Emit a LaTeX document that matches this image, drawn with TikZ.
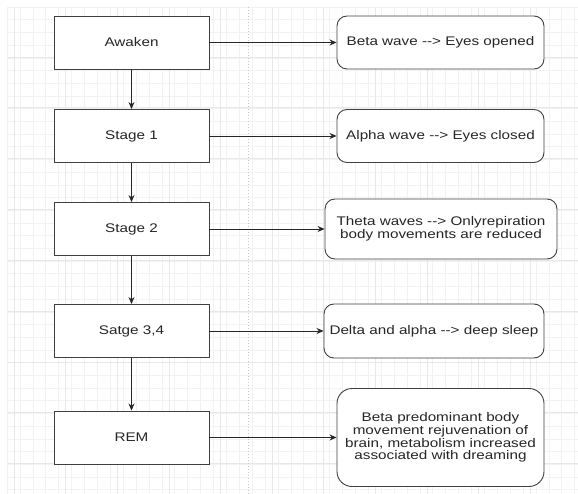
\documentclass[tikz,border=0pt]{standalone}
\usepackage{fontspec}
\setmainfont{Liberation Sans}[FakeStretch=1.22]
\usepackage{tikz}
\usetikzlibrary{arrows.meta}

\begin{document}
\begin{tikzpicture}[
    x=1pt,
    y=-1pt,
    every node/.style={font=\fontsize{12.5}{12.8}\selectfont, text=black!85},
    stage/.style={draw=black!75, line width=0.9pt, fill=white, minimum width=155pt, minimum height=53pt, inner sep=0pt},
    wave/.style={draw=black!75, line width=0.9pt, fill=white, rounded corners=10pt, align=center, inner sep=0pt},
    link/.style={-{Stealth[length=7pt, width=6pt]}, draw=black!85, line width=0.8pt},
    minorgrid/.style={draw=black!5, line width=0.5pt},
    majorgrid/.style={draw=black!9, line width=0.6pt},
    sepline/.style={draw=black!22, dotted, line width=1pt}
  ]
    \useasboundingbox (0,0) rectangle (578,494);
    % background grid
    \foreach \i in {0,...,44} {
      \draw[minorgrid] (7+\i*12.9,7) -- (7+\i*12.9,494);
    }
    \foreach \j in {0,...,38} {
      \draw[minorgrid] (7,7+\j*12.7) -- (578,7+\j*12.7);
    }
    \foreach \i in {0,...,11} {
      \draw[majorgrid] (14+\i*51.6,7) -- (14+\i*51.6,494);
    }
    \foreach \j in {0,...,9} {
      \draw[majorgrid] (7,57+\j*50.8) -- (578,57+\j*50.8);
    }
    \draw[sepline] (248,7) -- (248,494);

    % stages
    \node[stage] (awaken) at (131.5,42.5) {Awaken};
    \node[stage] (stageone) at (131.5,136) {Stage 1};
    \node[stage] (stagetwo) at (131.5,229) {Stage 2};
    \node[stage] (stagethree) at (131.5,331) {Satge 3,4};
    \node[stage] (rem) at (131.5,437.5) {REM};

    % waves
    \node[wave, minimum width=207pt, minimum height=53pt] (beta) at (440.5,42.5)
      {Beta wave -{}-> Eyes opened};
    \node[wave, minimum width=207pt, minimum height=53pt] (alpha) at (440.5,136)
      {Alpha wave -{}-> Eyes closed};
    \node[wave, minimum width=232pt, minimum height=60pt] (theta) at (441,229)
      {Theta waves -{}-> Onlyrepiration\\body movements are reduced};
    \node[wave, minimum width=220pt, minimum height=54pt] (delta) at (434,331)
      {Delta and alpha -{}-> deep sleep};
    \node[wave, rounded corners=15pt, minimum width=207pt, minimum height=98pt] (dream) at (440.5,437.5)
      {Beta predominant body\\movement rejuvenation of\\brain, metabolism increased\\associated with dreaming};

    \draw[link] (awaken) -- (stageone);
    \draw[link] (stageone) -- (stagetwo);
    \draw[link] (stagetwo) -- (stagethree);
    \draw[link] (stagethree) -- (rem);

    \draw[link] (awaken) -- (beta);
    \draw[link] (stageone) -- (alpha);
    \draw[link] (stagetwo) -- (theta);
    \draw[link] (stagethree) -- (delta);
    \draw[link] (rem) -- (dream);
  \end{tikzpicture}
\end{document}
